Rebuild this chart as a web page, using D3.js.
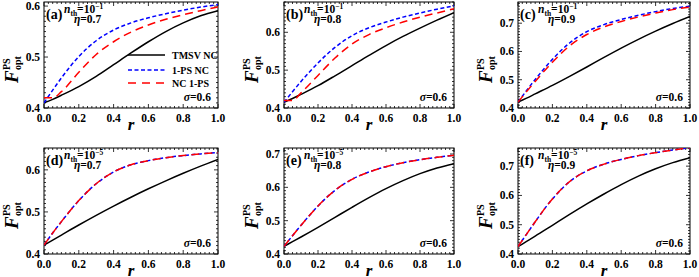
<!DOCTYPE html>
<html>
<head>
<meta charset="utf-8">
<script src="https://cdnjs.cloudflare.com/ajax/libs/d3/7.8.5/d3.min.js"></script>
<style>
  body { margin: 0; background: #fff; }
  svg { display: block; font-family: "Liberation Serif", "Times New Roman", serif; font-weight: bold; }
</style>
</head>
<body>
<svg id="chart" width="699" height="277"></svg>
<script>
// squeezing parameter r
var rVals = [0, 0.05, 0.1, 0.2, 0.3, 0.4, 0.5, 0.6, 0.7, 0.8, 0.9, 1.0];

// panel (a) nth=1e-1, eta=0.7
var tmsvA = [0.410, 0.417, 0.425, 0.442, 0.462, 0.485, 0.508, 0.530, 0.550, 0.567, 0.581, 0.591];
var ps1A  = [0.410, 0.435, 0.459, 0.501, 0.532, 0.553, 0.567, 0.577, 0.585, 0.592, 0.598, 0.603];
var ncA   = [0.420, 0.420, 0.432, 0.470, 0.505, 0.530, 0.549, 0.563, 0.574, 0.583, 0.591, 0.598];
// panel (b) nth=1e-1, eta=0.8
var tmsvB = [0.415, 0.425, 0.436, 0.459, 0.485, 0.512, 0.539, 0.565, 0.589, 0.611, 0.632, 0.652];
var ps1B  = [0.415, 0.443, 0.470, 0.519, 0.560, 0.591, 0.612, 0.627, 0.640, 0.651, 0.661, 0.670];
var ncB   = [0.420, 0.420, 0.440, 0.486, 0.532, 0.569, 0.594, 0.612, 0.627, 0.640, 0.651, 0.662];
// panel (c) nth=1e-1, eta=0.9
var tmsvC = [0.421, 0.435, 0.450, 0.480, 0.512, 0.545, 0.579, 0.612, 0.643, 0.672, 0.699, 0.724];
var ps1C  = [0.421, 0.462, 0.501, 0.572, 0.630, 0.670, 0.695, 0.713, 0.728, 0.741, 0.752, 0.760];
var ncC   = [0.421, 0.458, 0.494, 0.562, 0.620, 0.660, 0.687, 0.706, 0.722, 0.736, 0.748, 0.757];
// panel (d) nth=1e-5, eta=0.7
var tmsvD = [0.421, 0.433, 0.445, 0.469, 0.492, 0.514, 0.535, 0.555, 0.574, 0.592, 0.609, 0.625];
var ps1D  = [0.421, 0.450, 0.477, 0.527, 0.567, 0.595, 0.612, 0.622, 0.629, 0.634, 0.638, 0.641];
var ncD   = [0.421, 0.450, 0.477, 0.527, 0.567, 0.595, 0.612, 0.622, 0.629, 0.634, 0.638, 0.641];
// panel (e) nth=1e-5, eta=0.8
var tmsvE = [0.423, 0.437, 0.451, 0.480, 0.510, 0.540, 0.569, 0.596, 0.620, 0.641, 0.658, 0.671];
var ps1E  = [0.423, 0.455, 0.486, 0.544, 0.591, 0.624, 0.646, 0.662, 0.674, 0.683, 0.690, 0.696];
var ncE   = [0.423, 0.455, 0.486, 0.544, 0.591, 0.624, 0.646, 0.662, 0.674, 0.683, 0.690, 0.696];
// panel (f) nth=1e-5, eta=0.9
var tmsvF = [0.425, 0.443, 0.461, 0.498, 0.535, 0.571, 0.605, 0.637, 0.666, 0.691, 0.712, 0.729];
var ps1F  = [0.425, 0.468, 0.510, 0.588, 0.647, 0.684, 0.707, 0.723, 0.736, 0.746, 0.755, 0.763];
var ncF   = [0.425, 0.468, 0.510, 0.588, 0.647, 0.684, 0.707, 0.723, 0.736, 0.746, 0.755, 0.763];

var xTicks = [0, 0.2, 0.4, 0.6, 0.8, 1.0];
var yTicks = [0.4, 0.5, 0.6, 0.7];

var panels = [
  {tag: "(a)", nth: "\u22121", eta: "0.7", yTop: 0.608, tmsv: tmsvA, ps1: ps1A, nc: ncA, x0: 44, x1: 218, top: 2, bottom: 108, legend: true},
  {tag: "(b)", nth: "\u22121", eta: "0.8", yTop: 0.68, tmsv: tmsvB, ps1: ps1B, nc: ncB, x0: 284, x1: 454, top: 2, bottom: 108},
  {tag: "(c)", nth: "\u22121", eta: "0.9", yTop: 0.775, tmsv: tmsvC, ps1: ps1C, nc: ncC, x0: 518, x1: 690, top: 2, bottom: 108},
  {tag: "(d)", nth: "\u22125", eta: "0.7", yTop: 0.652, tmsv: tmsvD, ps1: ps1D, nc: ncD, x0: 44, x1: 218, top: 148, bottom: 254},
  {tag: "(e)", nth: "\u22125", eta: "0.8", yTop: 0.718, tmsv: tmsvE, ps1: ps1E, nc: ncE, x0: 284, x1: 454, top: 148, bottom: 254},
  {tag: "(f)", nth: "\u22125", eta: "0.9", yTop: 0.762, tmsv: tmsvF, ps1: ps1F, nc: ncF, x0: 518, x1: 690, top: 148, bottom: 254}
];

var svg = d3.select("#chart");

panels.forEach(function(p, i) {
  var x = d3.scaleLinear().domain([0, 1]).range([p.x0, p.x1]);
  var y = d3.scaleLinear().domain([0.4, p.yTop]).range([p.bottom, p.top]);
  var g = svg.append("g");

  g.append("clipPath").attr("id", "clip" + i)
    .append("rect").attr("x", p.x0).attr("y", p.top)
    .attr("width", p.x1 - p.x0).attr("height", p.bottom - p.top);

  // minor + major ticks on all four sides, pointing inward
  var xMinor = d3.range(0, 1.0001, 0.025);
  var yMinor = d3.range(0.4, p.yTop, 0.01);
  var tk = g.append("g").attr("stroke", "#000").attr("stroke-width", 0.8);
  xMinor.forEach(function(v) {
    var major = xTicks.some(function(t) { return Math.abs(t - v) < 1e-6; });
    var len = major ? 4 : 2;
    tk.append("line").attr("x1", x(v)).attr("x2", x(v)).attr("y1", p.bottom).attr("y2", p.bottom - len);
    tk.append("line").attr("x1", x(v)).attr("x2", x(v)).attr("y1", p.top).attr("y2", p.top + len);
  });
  yMinor.forEach(function(v) {
    var major = Math.abs(Math.round(v * 10) / 10 - v) < 1e-6;
    var len = major ? 4 : 2;
    tk.append("line").attr("x1", p.x0).attr("x2", p.x0 + len).attr("y1", y(v)).attr("y2", y(v));
    tk.append("line").attr("x1", p.x1).attr("x2", p.x1 - len).attr("y1", y(v)).attr("y2", y(v));
  });

  g.append("rect").attr("x", p.x0).attr("y", p.top)
    .attr("width", p.x1 - p.x0).attr("height", p.bottom - p.top)
    .attr("fill", "none").attr("stroke", "#000").attr("stroke-width", 1);

  // tick labels
  g.selectAll(".xl").data(xTicks).enter().append("text")
    .attr("x", function(d) { return x(d); }).attr("y", p.bottom + 14)
    .attr("text-anchor", "middle").attr("font-size", 11.5)
    .text(function(d) { return d.toFixed(1); });
  g.selectAll(".yl").data(yTicks.filter(function(t) { return t <= p.yTop + 1e-6; })).enter().append("text")
    .attr("x", p.x0 - 4).attr("y", function(d) { return y(d) + 4; })
    .attr("text-anchor", "end").attr("font-size", 11.5)
    .text(function(d) { return d.toFixed(1); });

  // axis titles
  g.append("text").attr("x", (p.x0 + p.x1) / 2).attr("y", p.bottom + 22)
    .attr("text-anchor", "middle").attr("font-size", 17).attr("font-style", "italic")
    .text("r");
  var yl = g.append("g")
    .attr("transform", "translate(" + (p.x0 - 32) + "," + ((p.top + p.bottom) / 2 + 2) + ") rotate(-90)");
  yl.append("text").attr("x", -26).attr("y", 6).attr("font-size", 19).attr("font-style", "italic").text("F");
  yl.append("text").attr("x", -13).attr("y", -2).attr("font-size", 10).text("PS");
  yl.append("text").attr("x", -13).attr("y", 9).attr("font-size", 10).text("opt");

  // curves
  var line = d3.line().curve(d3.curveMonotoneX)
    .x(function(d, j) { return x(rVals[j]); })
    .y(function(d) { return y(d); });
  var cg = g.append("g").attr("clip-path", "url(#clip" + i + ")").attr("fill", "none").attr("stroke-width", 1.5);
  cg.append("path").attr("d", line(p.tmsv)).attr("stroke", "#000");
  cg.append("path").attr("d", line(p.ps1)).attr("stroke", "#0000ff").attr("stroke-dasharray", "4,2.5");
  cg.append("path").attr("d", line(p.nc)).attr("stroke", "#ff0000").attr("stroke-dasharray", "8,5");

  // annotations
  g.append("text").attr("x", p.x0 + 2).attr("y", p.top + 17).attr("font-size", 14).text(p.tag);
  var nt = g.append("text").attr("x", p.x0 + 20).attr("y", p.top + 11).attr("font-size", 11.5);
  nt.append("tspan").attr("font-style", "italic").text("n");
  nt.append("tspan").attr("font-size", 7.5).attr("dy", 2.5).text("th");
  nt.append("tspan").attr("dy", -2.5).text("=10");
  nt.append("tspan").attr("font-size", 7.5).attr("dy", -4).text(p.nth);
  g.append("text").attr("x", p.x0 + 30).attr("y", p.top + 21).attr("font-size", 11.5)
    .html('<tspan font-style="italic">\u03b7</tspan>=' + p.eta);
  g.append("text").attr("x", p.x1 - 7).attr("y", p.bottom - 7).attr("font-size", 11.5)
    .attr("text-anchor", "end")
    .html('<tspan font-style="italic">\u03c3</tspan>=0.6');

  if (p.legend) {
    var items = [
      {label: "TMSV NC", color: "#000", dash: null, y: 55},
      {label: "1-PS NC", color: "#0000ff", dash: "4,2.5", y: 70},
      {label: "NC 1-PS", color: "#ff0000", dash: "8,6", y: 83}
    ];
    items.forEach(function(it) {
      g.append("line").attr("x1", 128).attr("x2", 165).attr("y1", it.y).attr("y2", it.y)
        .attr("stroke", it.color).attr("stroke-width", 1.5).attr("stroke-dasharray", it.dash);
      g.append("text").attr("x", 172).attr("y", it.y + 3.5).attr("font-size", 10).text(it.label);
    });
  }
});
</script>
</body>
</html>
